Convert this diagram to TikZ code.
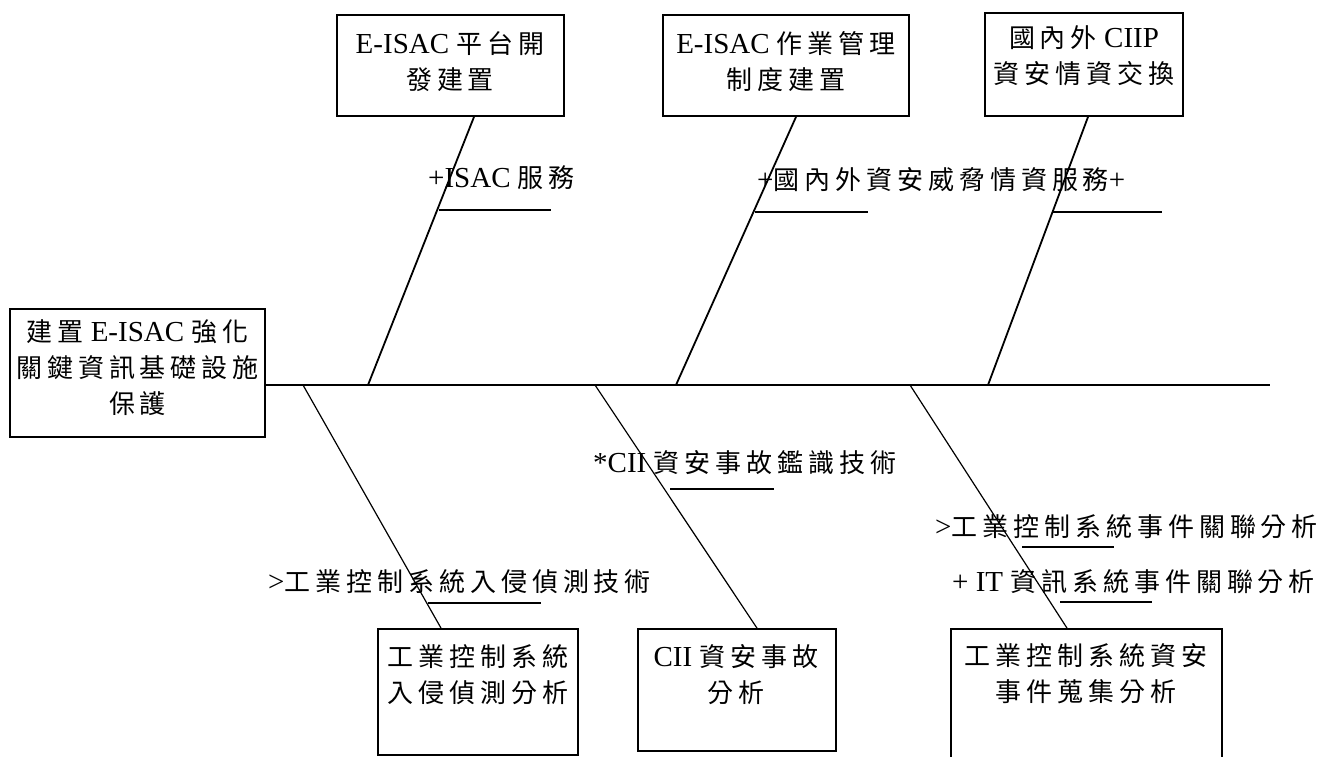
\documentclass[tikz,border=0pt]{standalone}
\usepackage{fontspec}
\setmainfont{Liberation Serif}
\newfontfamily\zhf[LetterSpace=19,Scale=0.8966]{Noto Sans CJK TC}
\newcommand\zh[1]{{\zhf #1}}
\tikzset{
  box/.style={draw, line width=1.8pt, rectangle, inner sep=0pt},
  txt/.style={inner sep=0pt, align=center, font=\fontsize{29}{36}\selectfont},
  lbl/.style={inner sep=0pt, anchor=west, font=\fontsize{29}{36}\selectfont},
  spine/.style={line width=2.2pt},
  upbone/.style={line width=1.8pt},
  lowbone/.style={line width=1.2pt},
  uline/.style={line width=2pt},
}
\begin{document}
\begin{tikzpicture}[x=1pt,y=-1pt]
\useasboundingbox (0,0) rectangle (1324,756);
% head box
\node[box, minimum width=255pt, minimum height=128pt] (m) at (137.5,373) {};
\node[txt] (mt) at (137.5,368) {\zh{建置} E-ISAC \zh{強化}\\ \zh{關鍵資訊基礎設施}\\ \zh{保護}};
% spine
\coordinate (se) at (1270,385);
\coordinate (s1) at (368,385);
\coordinate (s2) at (676,385);
\coordinate (s3) at (988,385);
\coordinate (s4) at (303,385);
\coordinate (s5) at (595,385);
\coordinate (s6) at (910,385);
\draw[spine] (m.east |- se) -- (se);
% top boxes
\node[box, minimum width=227pt, minimum height=101pt] (b1) at (450.5,65.5) {};
\node[txt] (b1t) at (450,61.5) {E-ISAC \zh{平台開}\\ \zh{發建置}};
\node[box, minimum width=246pt, minimum height=101pt] (b2) at (786,65.5) {};
\node[txt] (b2t) at (786,61.5) {E-ISAC \zh{作業管理}\\ \zh{制度建置}};
\node[box, minimum width=198pt, minimum height=103pt] (b3) at (1084,64.5) {};
\node[txt] (b3t) at (1084,56) {\zh{國內外} CIIP\\ \zh{資安情資交換}};
% bottom boxes
\node[box, minimum width=200pt, minimum height=126pt] (b4) at (478,692) {};
\node[txt] (b4t) at (478,675) {\zh{工業控制系統}\\ \zh{入侵偵測分析}};
\node[box, minimum width=198pt, minimum height=122pt] (b5) at (737,690) {};
\node[txt] (b5t) at (736,675) {CII \zh{資安事故}\\ \zh{分析}};
\node[box, minimum width=271pt, minimum height=134pt] (b6) at (1086.5,696) {};
\node[txt] (b6t) at (1086,673.5) {\zh{工業控制系統資安}\\ \zh{事件蒐集分析}};
% bones
\draw[upbone] ([xshift=23.5pt]b1.south) -- (s1);
\draw[upbone] ([xshift=10pt]b2.south) -- (s2);
\draw[upbone] ([xshift=4pt]b3.south) -- (s3);
\draw[lowbone] (s4) -- ([xshift=-37pt]b4.north);
\draw[lowbone] (s5) -- ([xshift=20pt]b5.north);
\draw[lowbone] (s6) -- ([xshift=-19.5pt]b6.north);
% labels
\node[lbl] (l1) at (428,178) {+ISAC \zh{服務}};
\node[lbl] (l2) at (757,180) {+\zh{國內外資安威脅情資服務}+};
\node[lbl] (l3) at (593,463) {*CII \zh{資安事故鑑識技術}};
\node[lbl] (l4) at (268,582) {>\zh{工業控制系統入侵偵測技術}};
\node[lbl] (l5) at (935,527) {>\zh{工業控制系統事件關聯分析}};
\node[lbl] (l6) at (952,582) {+ IT \zh{資訊系統事件關聯分析}};
% underlines
\draw[uline] (439,210) -- (551,210);
\draw[uline] (755,212) -- (868,212);
\draw[uline] (1052,212) -- (1162,212);
\draw[uline] (670,489) -- (774,489);
\draw[uline] (428,603) -- (541,603);
\draw[uline] (1022,547) -- (1114,547);
\draw[uline] (1060,602) -- (1152,602);
\end{tikzpicture}
\end{document}
